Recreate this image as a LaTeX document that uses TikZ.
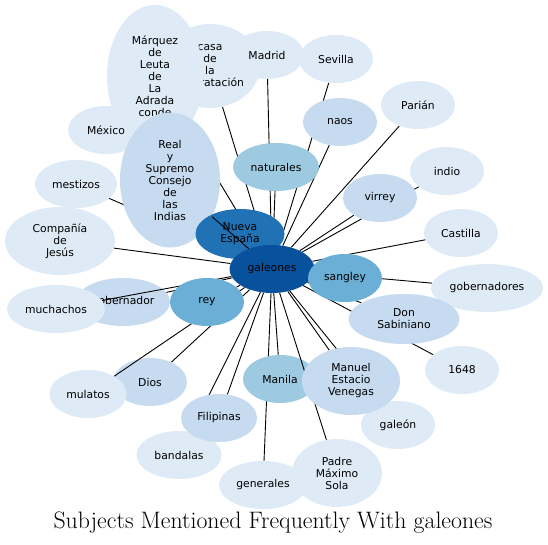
\documentclass[tikz,border=0pt]{standalone}
\usepackage{fontspec}
\newfontfamily\subjfamily{DejaVu Sans}
\usetikzlibrary{shapes.geometric}
\definecolor{blueA}{HTML}{08519C}
\definecolor{blueB}{HTML}{2171B5}
\definecolor{blueC}{HTML}{6BAED6}
\definecolor{blueD}{HTML}{9ECAE1}
\definecolor{blueE}{HTML}{C6DBEF}
\definecolor{blueF}{HTML}{DEEBF7}
\newcommand\subjfont{\subjfamily\fontsize{10.8}{12}\selectfont}
\pgfdeclarelayer{edges}
\pgfdeclarelayer{over}
\pgfdeclarelayer{top}
\pgfsetlayers{edges,main,over,top}
\tikzset{
  subj/.style={ellipse,inner sep=0pt,align=center,font=\subjfont,
    minimum width=74,minimum height=48},
  lvA/.style={subj,fill=blueA},
  lvB/.style={subj,fill=blueB},
  lvC/.style={subj,fill=blueC},
  lvD/.style={subj,fill=blueD},
  lvE/.style={subj,fill=blueE},
  lvF/.style={subj,fill=blueF},
  link/.style={line width=0.9pt}
}
\begin{document}
\begin{tikzpicture}[x=1pt,y=-1pt]
\useasboundingbox (0,0) rectangle (548,545);

% Outer ring (least frequent)
\node[lvF,minimum width=100,minimum height=84] (casa) at (210,66) {casa\\de\\la\\contratación};
\node[lvF,minimum width=96,minimum height=142] (marquez) at (155,76) {Márquez\\de\\Leuta\\de\\La\\Adrada\\conde};
\node[lvF] (madrid) at (267,55) {Madrid};
\node[lvF] (sevilla) at (336,59) {Sevilla};
\node[lvF] (parian) at (418,105) {Parián};
\node[lvF] (indio) at (447,171) {indio};
\node[lvF] (castilla) at (461,233) {Castilla};
\node[lvF,minimum width=112] (gobernadores) at (487,288) {gobernadores};
\node[lvF] (n1648) at (462,370) {1648};
\node[lvF] (galeon) at (398,425) {galeón};
\node[lvF,minimum width=88] (generales) at (263,485) {generales};
\node[lvF,minimum width=90,minimum height=68] (padre) at (337,473) {Padre\\Máximo\\Sola};
\node[lvF,minimum width=85] (bandalas) at (179,455) {bandalas};
\node[lvF,minimum width=76] (mexico) at (106,130) {México};
\node[lvF,minimum width=82] (mestizos) at (76,184) {mestizos};
\node[lvF,minimum width=110,minimum height=68] (compania) at (60,241) {Compañía\\de\\Jesús};

% Middle ring
\node[lvE,minimum width=100,minimum height=135] (real) at (170,180) {Real\\y\\Supremo\\Consejo\\de\\las\\Indias};
\node[lvE] (naos) at (340,122) {naos};
\node[lvE] (virrey) at (380,198) {virrey};
\node[lvE,minimum width=111,minimum height=50] (sabiniano) at (404,319) {Don\\Sabiniano};
\node[lvE,minimum width=94] (gobernador) at (123,302) {gobernador};
\node[lvE] (dios) at (150,382) {Dios};
\node[lvE,minimum width=76] (filipinas) at (219,418) {Filipinas};
\node[lvD,minimum width=86] (naturales) at (276,167) {naturales};
\node[lvD] (manila) at (280,379) {Manila};

% Centre
\node[lvB,minimum width=89,minimum height=50] (nueva) at (240,234) {Nueva\\España};
\node[lvA,minimum width=85] (galeones) at (272,269) {galeones};
\node[lvC] (sangley) at (345,278) {sangley};

% Nodes that sit over some links
\begin{pgfonlayer}{top}
\node[lvC] (rey) at (207,302) {rey};
\node[lvF,minimum width=77] (mulatos) at (88,394) {mulatos};
\node[lvF,minimum width=98] (muchachos) at (56,309) {muchachos};
\node[lvE,minimum width=98,minimum height=68] (manuel) at (351,381) {Manuel\\Estacio\\Venegas};
\end{pgfonlayer}

% Links to galeones
\begin{pgfonlayer}{edges}
\foreach \n in {nueva,sangley,rey,naturales,manila,manuel,sabiniano,virrey,naos,
  gobernador,dios,filipinas,marquez,casa,madrid,sevilla,parian,indio,castilla,
  gobernadores,n1648,galeon,generales,bandalas,compania,mestizos,mexico} {
  \draw[link] (galeones) -- (\n);
}
\end{pgfonlayer}
\begin{pgfonlayer}{over}
\foreach \n in {real,muchachos,mulatos,padre} {
  \draw[link] (galeones) -- (\n);
}
\end{pgfonlayer}

% Title
\node[anchor=base,font=\fontsize{23.8}{26}\selectfont] (title) at (273,528.5) {Subjects Mentioned Frequently With galeones};
\end{tikzpicture}
\end{document}
